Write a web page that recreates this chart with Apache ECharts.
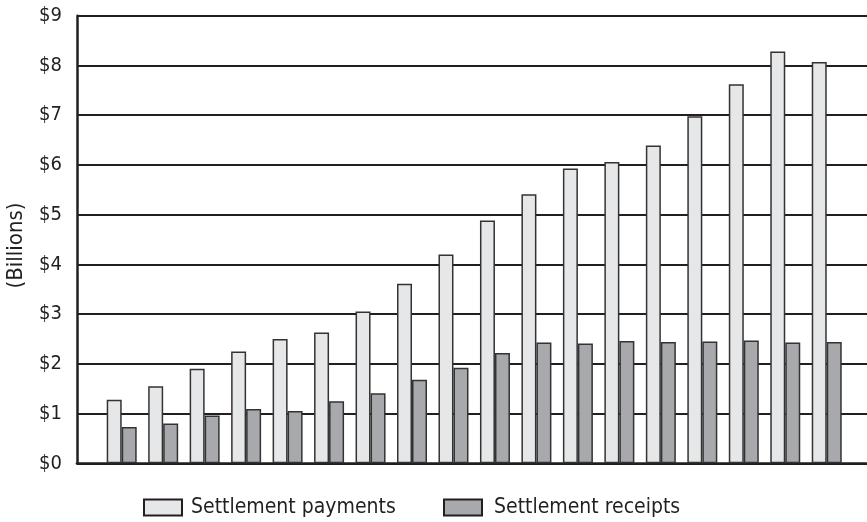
<!DOCTYPE html>
<html>
<head>
<meta charset="utf-8">
<script src="https://cdn.jsdelivr.net/npm/echarts@6/dist/echarts.min.js"></script>
<style>
  html, body { margin: 0; padding: 0; background: #ffffff; }
  #chart { width: 867px; height: 522px; }
</style>
</head>
<body>
<div id="chart"></div>
<script>
// Annual settlement flows, in billions of dollars
const periods = ['1', '2', '3', '4', '5', '6', '7', '8', '9', '10', '11', '12', '13', '14', '15', '16', '17', '18'];
const settlementPayments = [1.28, 1.55, 1.90, 2.25, 2.50, 2.63, 3.05, 3.61, 4.20, 4.88, 5.41, 5.93, 6.06, 6.39, 6.98, 7.62, 8.28, 8.07];
const settlementReceipts = [0.73, 0.80, 0.96, 1.09, 1.05, 1.25, 1.41, 1.68, 1.92, 2.22, 2.43, 2.41, 2.46, 2.44, 2.45, 2.47, 2.43, 2.44];
const yTickLabels = ['$0', '$1', '$2', '$3', '$4', '$5', '$6', '$7', '$8', '$9'];

const ink = '#231f20';
const condensed = "'DejaVu Sans Condensed', 'Liberation Sans', Arial, sans-serif";
const yMax = yTickLabels.length - 1;

const chart = echarts.init(document.getElementById('chart'), null, { renderer: 'canvas' });

const legendBase = {
  itemWidth: 38, itemHeight: 16, icon: 'rect', top: 497, padding: 0,
  itemStyle: { borderColor: ink, borderWidth: 2 }
};

chart.setOption({
  animation: false,
  backgroundColor: '#ffffff',
  // grid 0: frame, gridlines and value labels; grid 1: the bar groups
  grid: [
    { left: 77, right: 0, top: 15.7, height: 447.6, outerBoundsMode: 'none', containLabel: false },
    { left: 100.97, width: 746.5, top: 15.7, height: 447.6, outerBoundsMode: 'none', containLabel: false }
  ],
  xAxis: [
    {
      gridIndex: 0, type: 'value', min: 0, max: 1,
      axisLine: { show: true, onZero: true, lineStyle: { color: ink, width: 2.7 } },
      axisTick: { show: false }, axisLabel: { show: false }, splitLine: { show: false }
    },
    {
      gridIndex: 1, type: 'category', data: periods, show: false
    }
  ],
  yAxis: [
    {
      gridIndex: 0, type: 'value', min: 0, max: yMax, interval: 1,
      name: '(Billions)', nameLocation: 'middle', nameRotate: 90, nameGap: 50,
      nameTextStyle: { fontFamily: condensed, fontSize: 22, color: ink, padding: [0, 12, 0, 0] },
      axisLine: { show: true, lineStyle: { color: ink, width: 2.5 } },
      axisTick: { show: false },
      axisLabel: {
        margin: 15, fontFamily: condensed, fontSize: 20, color: ink,
        formatter: v => yTickLabels[v]
      },
      splitLine: { show: true, lineStyle: { color: ink, width: 2 } }
    },
    {
      gridIndex: 1, type: 'value', min: 0, max: yMax, show: false,
      splitLine: { show: false }
    }
  ],
  legend: [
    Object.assign({}, legendBase, {
      data: ['Settlement payments'], left: 143,
      textStyle: { fontFamily: condensed, fontSize: 21, lineHeight: 16, color: ink, padding: [0, 0, 0, 4] }
    }),
    Object.assign({}, legendBase, {
      data: ['Settlement receipts'], left: 443,
      textStyle: { fontFamily: condensed, fontSize: 21, lineHeight: 16, color: ink, padding: [0, 0, 0, 7] }
    })
  ],
  series: [
    {
      name: 'Settlement payments', type: 'bar', xAxisIndex: 1, yAxisIndex: 1,
      data: settlementPayments, barWidth: 15, barGap: '0%',
      itemStyle: { color: '#e6e7e8', borderColor: '#333333', borderWidth: 1.5 }
    },
    {
      name: 'Settlement receipts', type: 'bar', xAxisIndex: 1, yAxisIndex: 1,
      data: settlementReceipts, barWidth: 15, barGap: '0%',
      itemStyle: { color: '#a7a9ac', borderColor: '#333333', borderWidth: 1.5 }
    }
  ]
});
</script>
</body>
</html>
